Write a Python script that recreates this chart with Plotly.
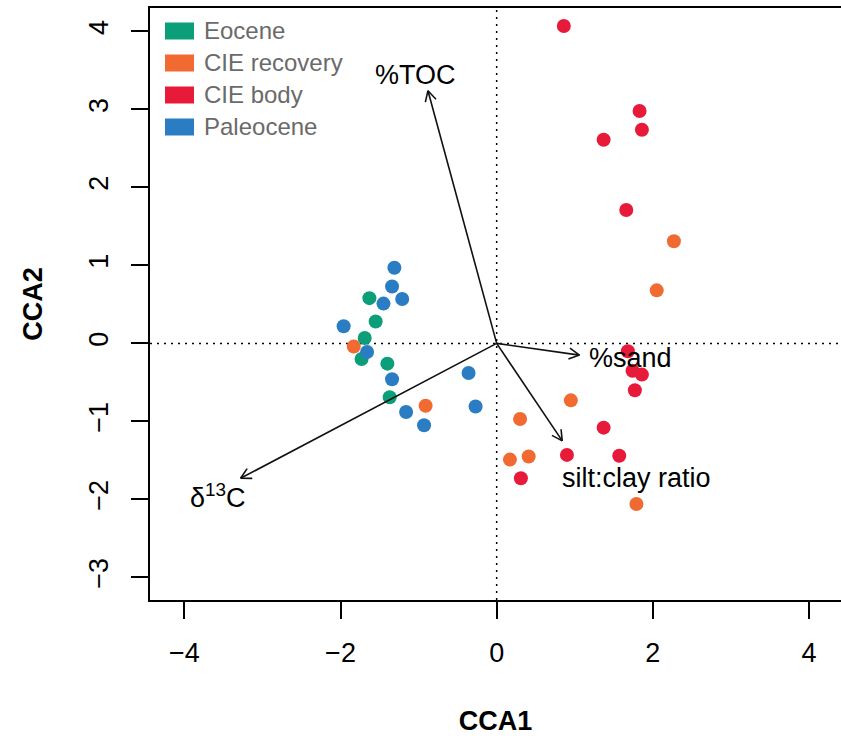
import numpy as np
import plotly.graph_objects as go

# ---------------- data ----------------
groups = ["Eocene", "CIE recovery", "CIE body", "Paleocene"]
colors = {"Eocene": "#0c9e78", "CIE recovery": "#f06a32", "CIE body": "#e81a3a", "Paleocene": "#2a7dc2"}

eocene_x = [-1.63, -1.55, -1.69, -1.73, -1.40, -1.37]
eocene_y = [0.58, 0.28, 0.07, -0.20, -0.26, -0.69]

recovery_x = [2.27, 2.05, 0.95, 0.30, 0.17, 0.41, 1.79, -1.83, -0.91]
recovery_y = [1.31, 0.68, -0.73, -0.97, -1.49, -1.45, -2.06, -0.04, -0.80]

body_x = [0.86, 1.83, 1.86, 1.37, 1.66, 1.68, 1.74, 1.86, 1.77, 1.37, 0.90, 1.57, 0.31]
body_y = [4.07, 2.98, 2.74, 2.61, 1.71, -0.10, -0.35, -0.40, -0.60, -1.08, -1.43, -1.44, -1.73]

paleo_x = [-1.31, -1.34, -1.21, -1.45, -1.96, -1.66, -1.34, -0.36, -1.16, -0.27, -0.93]
paleo_y = [0.97, 0.73, 0.57, 0.51, 0.22, -0.11, -0.46, -0.38, -0.88, -0.81, -1.05]

arrow_names = ["%TOC", "%sand", "silt:clay ratio", "δ<sup>13</sup>C"]
arrow_x = [-0.88, 1.06, 0.84, -3.28]
arrow_y = [3.24, -0.15, -1.25, -1.73]
label_x = [-1.04, 1.72, 1.79, -3.57]
label_y = [3.44, -0.19, -1.73, -1.96]

x_ticks = [-4, -2, 0, 2, 4]
y_ticks = [-3, -2, -1, 0, 1, 2, 3, 4]

FONT = "Liberation Sans, Arial, sans-serif"

series = {
    "CIE body": (body_x, body_y),
    "CIE recovery": (recovery_x, recovery_y),
    "Eocene": (eocene_x, eocene_y),
    "Paleocene": (paleo_x, paleo_y),
}

fig = go.Figure()

# zero reference lines
fig.add_shape(type="line", xref="x", yref="paper", x0=0, x1=0, y0=0, y1=1,
              line=dict(color="black", width=1.5, dash="2px,5px"), layer="below")
fig.add_shape(type="line", xref="paper", yref="y", x0=0, x1=1, y0=0, y1=0,
              line=dict(color="black", width=1.5, dash="2px,5px"), layer="below")

for name, (xs, ys) in series.items():
    fig.add_trace(go.Scatter(x=xs, y=ys, mode="markers", name=name, showlegend=False,
                             marker=dict(color=colors[name], size=14, line=dict(width=0))))

# biplot arrows with open heads
head_len = 0.15
head_ang = np.deg2rad(28)
ax_all, ay_all = [], []
for xe, ye in zip(arrow_x, arrow_y):
    ax_all += [0, xe, None]
    ay_all += [0, ye, None]
    ang = np.arctan2(ye, xe)
    for s in (1, -1):
        a = ang + np.pi + s * head_ang
        ax_all += [xe + head_len * np.cos(a), xe, None]
        ay_all += [ye + head_len * np.sin(a), ye, None]
fig.add_trace(go.Scatter(x=ax_all, y=ay_all, mode="lines", showlegend=False,
                         line=dict(color="#111111", width=1.6), hoverinfo="skip"))

for name, lx, ly in zip(arrow_names, label_x, label_y):
    fig.add_annotation(x=lx, y=ly, text=name, showarrow=False,
                       font=dict(family=FONT, size=27, color="black"),
                       xanchor="center", yanchor="middle")

# manual legend (coloured rectangles + grey text), pixel-placed inside plot
W, H = 841, 736
ml, mr, mt, mb = 150, 0, 8, 136
pw, ph = W - ml - mr, H - mt - mb

def px(xp):
    return (xp - ml) / pw

def py(yp):
    return (H - mb - yp) / ph

for i, name in enumerate(groups):
    cy = 31 + 32 * i
    fig.add_shape(type="rect", xref="paper", yref="paper",
                  x0=px(165), x1=px(194), y0=py(cy + 8.5), y1=py(cy - 8.5),
                  fillcolor=colors[name], line=dict(width=0))
    fig.add_annotation(xref="paper", yref="paper", x=px(202), y=py(cy), text=name,
                       showarrow=False, xanchor="left", yanchor="middle",
                       font=dict(family=FONT, size=24, color="#6a6a6a"))

axis_common = dict(showgrid=False, zeroline=False, showline=True, linecolor="black",
                   linewidth=1.5, ticks="outside", ticklen=17, tickwidth=1.5,
                   tickcolor="black", tickfont=dict(family=FONT, size=27, color="black"))

fig.update_layout(
    width=W, height=H,
    margin=dict(l=ml, r=mr, t=mt, b=mb),
    plot_bgcolor="white", paper_bgcolor="white",
    xaxis=dict(range=[-4.44, 4.41], tickvals=x_ticks,
               ticktext=[str(v).replace("-", "−") for v in x_ticks],
               mirror=True, ticklabelstandoff=11,
               title=dict(text="<b>CCA1</b>", font=dict(family=FONT, size=27, color="black"), standoff=44),
               **axis_common),
    yaxis=dict(range=[-3.29, 4.30], tickvals=y_ticks,
               ticktext=[str(v).replace("-", "−") for v in y_ticks],
               tickangle=-90, mirror=False, ticklabelstandoff=12,
               title=dict(text="<b>CCA2</b>", font=dict(family=FONT, size=27, color="black"), standoff=34),
               **axis_common),
)

fig.write_html("out.html")
